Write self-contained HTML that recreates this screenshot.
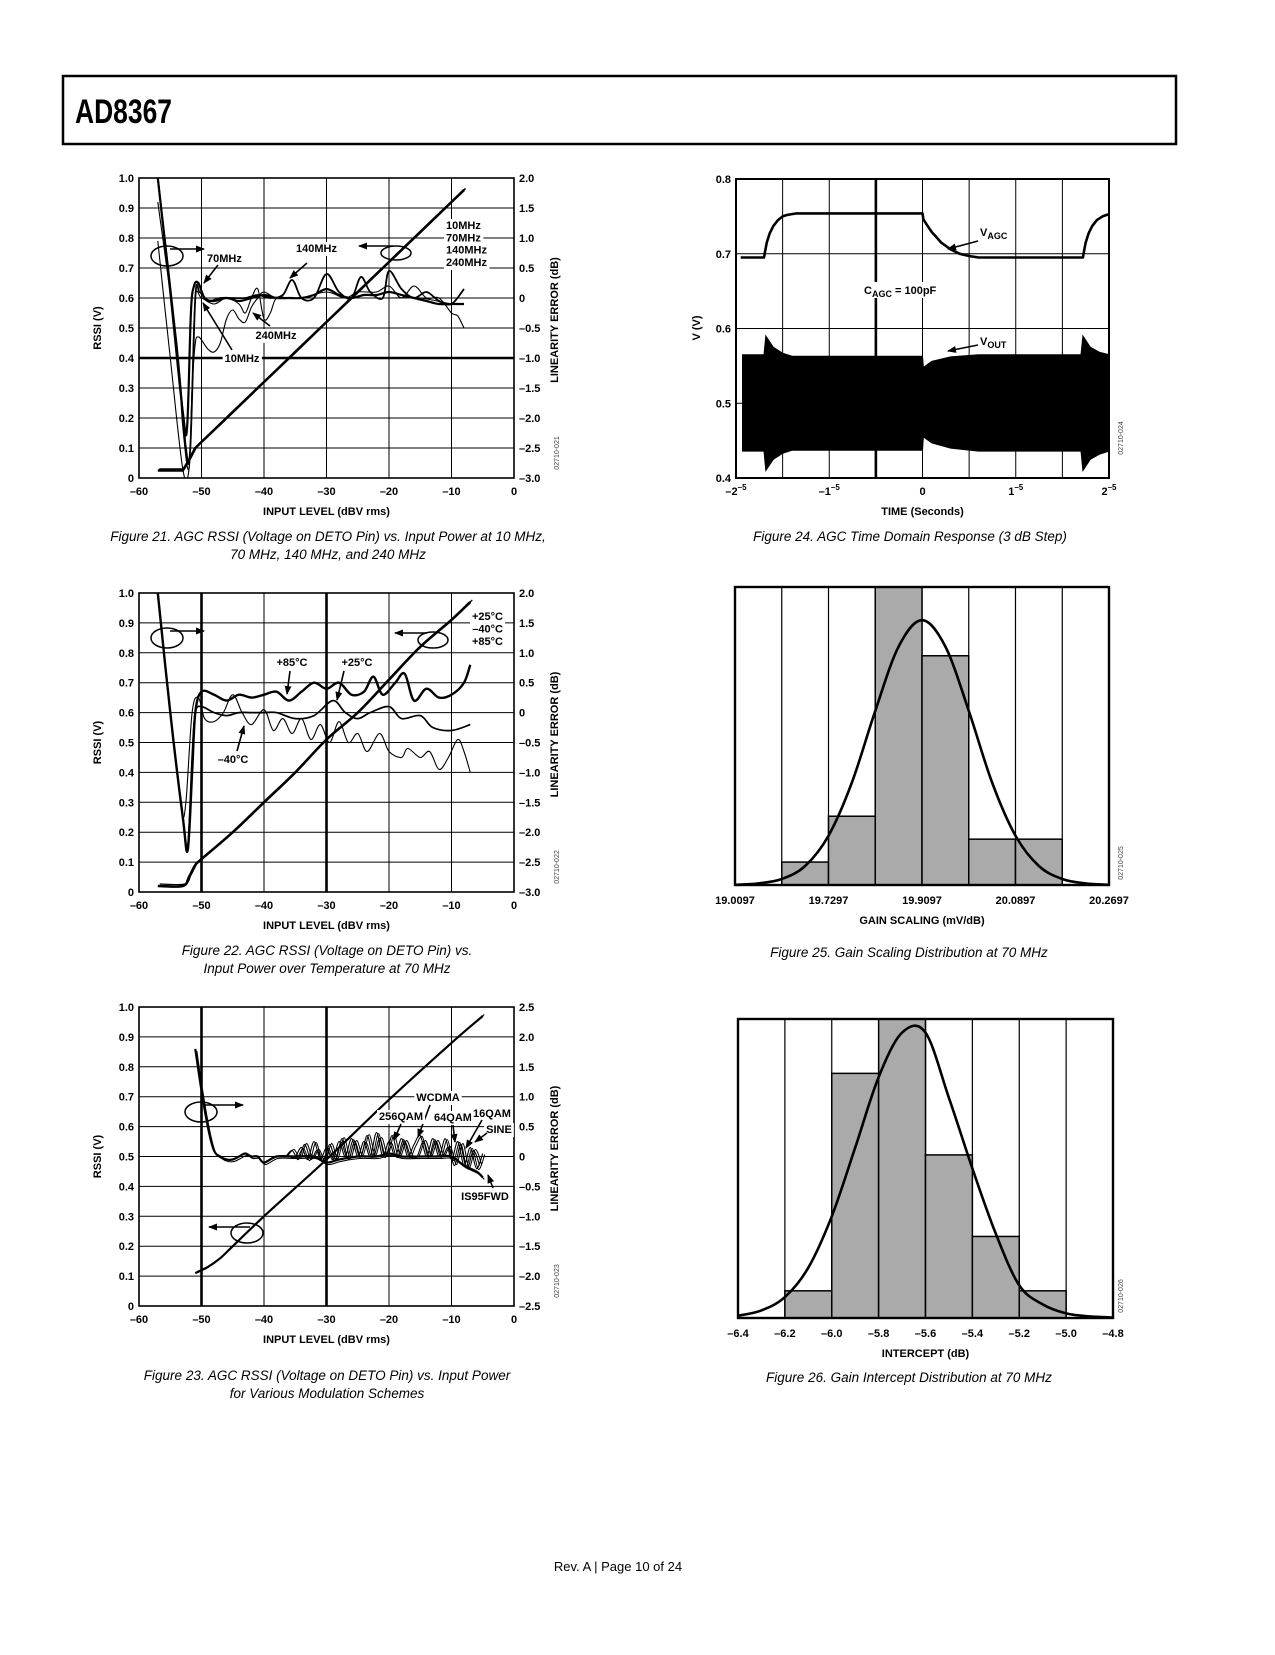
<!DOCTYPE html>
<html><head><meta charset="utf-8">
<style>
body{margin:0;background:#fff}
svg text{font-family:"Liberation Sans",Arial,sans-serif;fill:#000}
.t{font-size:11px;font-weight:bold}
.cap{font-size:13.5px;font-style:italic}
.code{font-size:7px;fill:#444}
</style></head>
<body>
<svg id="page" width="1275" height="1650" viewBox="0 0 1275 1650" xmlns="http://www.w3.org/2000/svg">
<defs>
<marker id="ah" markerWidth="9" markerHeight="7" refX="8" refY="3.5" orient="auto" markerUnits="userSpaceOnUse"><path d="M0,0L9,3.5L0,7z" fill="#000"/></marker>
</defs>
<rect x="63" y="76" width="1113" height="68" fill="none" stroke="#000" stroke-width="2.5"/>
<text x="75" y="123" font-size="34" font-weight="bold" textLength="97" lengthAdjust="spacingAndGlyphs">AD8367</text>
<text x="618" y="1571" font-size="13" text-anchor="middle">Rev. A | Page 10 of 24</text>
</svg>
<script>
// ---------- Figure 21 data ----------
const f21_rssi_x = [-57,-53,-52,-51,-50,-45,-40,-35,-30,-25,-20,-15,-10,-8];
const f21_rssi_v = [0.025,0.025,0.06,0.1,0.12,0.22,0.32,0.42,0.52,0.62,0.72,0.82,0.92,0.96];
const f21_70_x = [-57,-55,-53,-52.3,-51.7,-51.2,-50.5,-49.5,-48,-46,-44,-42,-40,-38,-36,-34,-32,-30,-28,-26,-24,-22,-20,-18,-16,-14,-12,-10,-8];
const f21_70_db = [2,0.1,-1.9,-2.15,-0.25,0.2,0.25,0,-0.05,0,-0.05,0,0.05,0,0,0,0.05,0.15,0.05,0,0.05,0.05,0.1,0.05,0,-0.05,-0.1,-0.1,-0.1];
const f21_140_x = [-57,-54,-52.5,-51.8,-51,-50.3,-49,-47,-45,-43,-41,-39,-37,-35.5,-34,-32,-30,-28,-26,-24.5,-23,-21,-20,-18,-16,-14,-12,-10,-8];
const f21_140_db = [2,-0.75,-2.5,-2.5,0,0.1,-0.05,0,0,0,0.05,0,0.05,0.3,0,0,0.4,0.1,0,0.35,0.1,0,0.45,0.15,0,0.1,-0.05,-0.1,0.15];
const f21_240_x = [-57,-54,-53,-52,-51.5,-51,-50,-48,-46,-44,-43,-42,-41,-40,-39,-38,-36,-34,-30,-27,-25,-22,-20,-18,-16,-14,-12,-10,-9,-8];
const f21_240_db = [1.6,-0.75,-2.15,-2.85,-1.5,0,0,-0.1,0,-0.1,-0.25,0,0.15,-0.35,-0.25,0,0,0,0.1,0,0.1,0.1,0.2,0,0.2,0,0,-0.25,-0.3,-0.5];
const f21_10_x = [-57,-55,-53,-52,-51.5,-51,-50.5,-50,-49,-48,-47,-46,-45,-44,-43,-42,-41,-40,-38,-35,-30,-25,-20,-15,-10,-8];
const f21_10_db = [0.95,-1,-2.85,-2.85,-1.5,-0.75,-0.65,-0.7,-0.85,-0.9,-0.75,-0.35,-0.2,-0.35,-0.4,-0.15,0,0.1,0,0,0,0,0,0,-0.1,-0.1];
// ---------- Figure 22 data ----------
const f22_rssi_x = [-57,-53,-52,-51,-50,-45,-40,-35,-30,-25,-20,-15,-10,-7];
const f22_rssi_v = [0.02,0.02,0.05,0.09,0.11,0.2,0.3,0.4,0.51,0.6,0.71,0.82,0.91,0.97];
const f22_p85_x = [-57,-55,-53,-52.2,-51.5,-51,-50,-48,-46,-44,-42,-40,-38,-36,-34,-32,-30,-28,-26,-24,-22.5,-21,-19,-17.5,-16,-14,-12,-10,-8,-7];
const f22_p85_db = [2,0,-1.75,-2.3,-1,0,0.35,0.3,0.2,0.3,0.25,0.3,0.35,0.2,0.35,0.5,0.4,0.5,0.3,0.35,0.6,0.3,0.5,0.65,0.2,0.4,0.25,0.3,0.5,0.8];
const f22_p25_x = [-57,-55,-53,-52.2,-51.5,-51,-50,-48,-46,-44,-42,-40,-38,-35,-32,-29,-27,-25,-23,-20,-18,-15,-13,-10,-7];
const f22_p25_db = [2,0,-1.75,-2.25,-0.75,0,0.1,0,-0.05,0,0,0,0,-0.1,-0.05,0.2,0,-0.1,0,0.1,-0.1,-0.05,-0.25,-0.3,-0.2];
const f22_m40_x = [-57,-55,-53.2,-52.5,-51.5,-50.5,-49.5,-48,-46.5,-45,-43.5,-42,-40,-38.5,-37,-35.5,-34,-32.5,-31,-29.5,-28,-26.5,-25,-23.5,-21.5,-20,-18,-17,-15,-13.5,-12,-10.5,-9,-8,-7];
const f22_m40_db = [2,0,-1.6,-1.5,0,0.25,-0.1,-0.15,0,0.3,0,-0.2,0.05,-0.3,-0.1,-0.35,-0.1,-0.45,-0.2,-0.5,-0.15,-0.5,-0.35,-0.65,-0.35,-0.65,-0.75,-0.6,-0.75,-0.65,-0.95,-0.75,-0.45,-0.65,-1.0];
// ---------- Figure 23 data ----------
const f23_rssi_x = [-51,-49,-47,-45,-40,-30,-20,-10,-5];
const f23_rssi_v = [0.11,0.13,0.16,0.2,0.3,0.49,0.69,0.88,0.97];
const f23_base_x = [-51,-50,-49,-48,-47,-46,-45,-44,-43,-42,-41,-40,-38,-35,-32,-30,-28,-25,-22,-20,-18,-15,-12,-10,-8,-6,-5];
const f23_base_db = [1.8,1.1,0.5,0.1,0,-0.05,-0.05,0,0.05,0,0,-0.1,0,0,0,-0.1,-0.05,0,0,0.05,0,0,0,0,-0.15,-0.25,-0.35];
const f23_osc1_x = [-36,-35,-34,-33,-32,-31,-30,-29,-28,-27,-26,-25,-24,-23,-22,-21,-20,-19,-18,-17,-16,-15,-14,-13,-12,-11,-10,-9,-8,-7,-6,-5];
const f23_osc1_db = [0,0,0.15,-0.05,0.25,-0.05,0.15,-0.05,0.25,0,0.3,0,0.25,0,0.4,0,0.25,0,0.3,0,0.2,0.35,0,0.3,0,0.3,-0.05,0.25,-0.15,0.15,-0.2,0.05];
const f23_osc2_x = [-36.5,-35.5,-34.5,-33.5,-32.5,-31.5,-30.5,-29.5,-28.5,-27.5,-26.5,-25.5,-24.5,-23.5,-22.5,-21.5,-20.5,-19.5,-18.5,-17.5,-16.5,-15.5,-14.5,-13.5,-12.5,-11.5,-10.5,-9.5,-8.5,-7.5,-6.5,-5.5];
const f23_osc2_db = [0,0.1,-0.05,0.2,-0.05,0.1,-0.1,0.2,-0.05,0.3,-0.05,0.25,0,0.35,0,0.3,0,0.35,0,0.25,0,0,0.25,0,0.25,0,0.15,-0.15,0.2,-0.2,0.1,-0.15];
// ---------- Figure 24 data ----------
const f24_vagc_t = [-1.95,-1.7,-1.69,-1.67,-1.64,-1.6,-1.55,-1.5,-1.45,-1.35,-1.2,0,0.01,0.05,0.1,0.15,0.2,0.3,0.4,0.5,0.6,1.72,1.73,1.75,1.78,1.82,1.87,1.93,2.0];
const f24_vagc_v = [0.695,0.695,0.702,0.715,0.727,0.737,0.745,0.75,0.752,0.754,0.754,0.754,0.746,0.738,0.729,0.722,0.715,0.706,0.7,0.697,0.695,0.695,0.702,0.715,0.727,0.737,0.745,0.75,0.753];
const f24_vout_t = [-1.93,-1.7,-1.68,-1.6,-1.5,-1.4,0,0.01,0.1,0.3,0.6,1.0,1.7,1.72,1.8,1.9,2.0];
const f24_vout_hi = [0.565,0.565,0.59,0.575,0.567,0.563,0.563,0.548,0.556,0.562,0.565,0.565,0.565,0.59,0.575,0.568,0.565];
const f24_vout_lo = [0.436,0.436,0.41,0.425,0.433,0.437,0.437,0.455,0.447,0.44,0.436,0.436,0.436,0.41,0.425,0.432,0.436];
// ---------- Figure 25 data ----------
const f25_counts = [0,1,3,13,10,2,2,0];
const f25_ticks = ["19.0097","19.7297","19.9097","20.0897","20.2697"];
const f25_fit_bin = [0,0.5,1,1.5,2,2.5,3,3.5,4,4.5,5,5.5,6,6.5,7,7.5,8];
const f25_fit_val = [0.01,0.07,0.26,0.83,2.15,4.47,7.6,10.4,11.55,10.4,7.6,4.47,2.15,0.83,0.26,0.07,0.01];
// ---------- Figure 26 data ----------
const f26_counts = [0,1,9,11,6,3,1,0];
const f26_ticks = ["–6.4","–6.2","–6.0","–5.8","–5.6","–5.4","–5.2","–5.0","–4.8"];
const f26_fit_x = [-6.4,-6.3,-6.2,-6.1,-6.0,-5.9,-5.8,-5.7,-5.6,-5.5,-5.4,-5.3,-5.2,-5.1,-5.0,-4.9,-4.8];
const f26_fit_val = [0.08,0.28,0.77,1.85,3.74,6.27,8.86,10.5,10.5,8.1,5.5,3.1,1.2,0.5,0.17,0.06,0.02];

const NS='http://www.w3.org/2000/svg';
const page=document.getElementById('page');
function mk(tag,attrs,parent,txt){const e=document.createElementNS(NS,tag);for(const k in attrs)e.setAttribute(k,attrs[k]);if(txt!=null)e.textContent=txt;(parent||page).appendChild(e);return e;}
function cr(p){let d='M'+p[0][0].toFixed(1)+','+p[0][1].toFixed(1);for(let i=0;i<p.length-1;i++){const p0=p[i-1]||p[i],p1=p[i],p2=p[i+1],p3=p[i+2]||p2;const c1x=p1[0]+(p2[0]-p0[0])/6,c1y=p1[1]+(p2[1]-p0[1])/6,c2x=p2[0]-(p3[0]-p1[0])/6,c2y=p2[1]-(p3[1]-p1[1])/6;d+='C'+c1x.toFixed(1)+','+c1y.toFixed(1)+' '+c2x.toFixed(1)+','+c2y.toFixed(1)+' '+p2[0].toFixed(1)+','+p2[1].toFixed(1);}return d;}
function pl(p){return 'M'+p.map(q=>q[0].toFixed(1)+','+q[1].toFixed(1)).join('L');}
function label(g,x,y,txt,anchor,bg){
  const t=mk('text',{x:x,y:y,class:'t','text-anchor':anchor||'start'},g,txt);
  
  
  if(bg){const b=t.getBBox();const r=mk('rect',{x:b.x-2,y:b.y-1,width:b.width+4,height:b.height+2,fill:'#fff'},g);g.insertBefore(r,t);}
  return t;
}
function arrow(g,x1,y1,x2,y2){
  const a=mk('line',{x1:x1,y1:y1,x2:x2,y2:y2,stroke:'#000','stroke-width':1.6,'marker-end':'url(#ah)'},g);
  
  
}
function ellipse(g,cx,cy,rx,ry){
  const e=mk('ellipse',{cx:cx,cy:cy,rx:rx,ry:ry,fill:'none',stroke:'#000','stroke-width':1.5},g);
  
  
}
function rotText(g,x,y,txt,cls,name){
  const t=mk('text',{x:0,y:0,class:cls,'text-anchor':'middle','dominant-baseline':'middle',transform:'translate('+x+','+y+') rotate(-90)'},g,txt);
  
  
}
function caption(x,y,lines,name){
  lines.forEach((s,i)=>{const t=mk('text',{x:x,y:y+i*18,class:'cap','text-anchor':'middle'},page,s);
  
  });
}

function rssiChart(o){
  const g=mk('g',{});
  
  
  const sx=x=>o.L+(x+60)/60*(o.R-o.L);
  const sy=v=>o.B-v*(o.B-o.T);
  const sd=d=>o.B-(d-o.dMin)/(o.dMax-o.dMin)*(o.B-o.T);
  for(let x=-50;x<0;x+=10){const th=o.thickX.includes(x);const l=mk('line',{x1:sx(x),y1:o.T,x2:sx(x),y2:o.B,stroke:'#000','stroke-width':th?2.6:1},g);
    
    }
  for(let i=1;i<10;i++){const th=o.thickY.includes(i);const l=mk('line',{x1:o.L,y1:sy(i/10),x2:o.R,y2:sy(i/10),stroke:'#000','stroke-width':th?2.4:1},g);
    
    }
  const fr=mk('rect',{x:o.L,y:o.T,width:o.R-o.L,height:o.B-o.T,fill:'none',stroke:'#000','stroke-width':1.6},g);
  
  
  for(let i=0;i<=10;i++){const t=mk('text',{x:o.L-5,y:sy(i/10)+4,class:'t','text-anchor':'end'},g,i==0?'0':(i==10?'1.0':'0.'+i));
    
    }
  o.rTicks.forEach(d=>{const t=mk('text',{x:o.R+5,y:sd(d)+4,class:'t'},g,(d<0?'–':'')+(d==0?'0':Math.abs(d).toFixed(1)));
    
    });
  for(let x=-60;x<=0;x+=10){const t=mk('text',{x:sx(x),y:o.B+17,class:'t','text-anchor':'middle'},g,x==0?'0':'–'+(-x));
    
    }
  const xt=mk('text',{x:(o.L+o.R)/2,y:o.B+37,class:'t','text-anchor':'middle'},g,'INPUT LEVEL (dBV rms)');
  
  
  rotText(g,98,(o.T+o.B)/2,'RSSI (V)','t','left-axis-title');
  rotText(g,o.R+41,(o.T+o.B)/2-8,'LINEARITY ERROR (dB)','t','right-axis-title');
  rotText(g,o.R+43,o.B-25,o.code,'code','figure-code');
  const cp=mk('clipPath',{id:'cp'+o.name},g);
  mk('rect',{x:o.L,y:o.T,width:o.R-o.L,height:o.B-o.T},cp);
  const pg=mk('g',{'clip-path':'url(#cp'+o.name+')'},g);
  return {g,pg,sx,sy,sd};
}
function drawSeries(c,xs,vs,scale,w,name,smooth,dx,dy){
  const pts=xs.map((x,i)=>[c.sx(x)+(dx||0),scale(vs[i])+(dy||0)]);
  const p=mk('path',{d:smooth?cr(pts):pl(pts),fill:'none',stroke:'#000','stroke-width':w,'stroke-linejoin':'round'},c.pg);
  
  
}

// Figure 21
{
const c=rssiChart({name:'figure-21-chart',L:139,R:514,T:178,B:478,dMin:-3,dMax:2,rTicks:[2,1.5,1,0.5,0,-0.5,-1,-1.5,-2,-2.5,-3],thickX:[],thickY:[4],code:'02710-021'});
drawSeries(c,f21_rssi_x,f21_rssi_v,c.sy,2.6,'rssi-line',false);
drawSeries(c,f21_rssi_x,f21_rssi_v,c.sy,1.6,'rssi-line-2',false,1.5,-1.5);
drawSeries(c,f21_10_x,f21_10_db,c.sd,1.1,'error-10mhz',true);
drawSeries(c,f21_240_x,f21_240_db,c.sd,1.1,'error-240mhz',true);
drawSeries(c,f21_70_x,f21_70_db,c.sd,2.2,'error-70mhz',true);
drawSeries(c,f21_140_x,f21_140_db,c.sd,1.8,'error-140mhz',true);
const g=c.g;
ellipse(g,167,256,16,10); arrow(g,170,249,204,249);
ellipse(g,396,253,15,7); arrow(g,393,246,359,246);
label(g,207,262,'70MHz','start',true); arrow(g,218,265,204,283);
label(g,296,252,'140MHz','start',true); arrow(g,307,263,290,278);
['10MHz','70MHz','140MHz','240MHz'].forEach((s,i)=>label(g,446,229+i*12.3,s,'start',true));
label(g,276,339,'240MHz','middle',true); arrow(g,270,326,253,313);
label(g,242,362,'10MHz','middle',true); arrow(g,232,350,203,303);
caption(328,541,['Figure 21. AGC RSSI (Voltage on DETO Pin) vs. Input Power at 10 MHz,','70 MHz, 140 MHz, and 240 MHz'],'figure-21-caption');
}
// Figure 22
{
const c=rssiChart({name:'figure-22-chart',L:139,R:514,T:593,B:892,dMin:-3,dMax:2,rTicks:[2,1.5,1,0.5,0,-0.5,-1,-1.5,-2,-2.5,-3],thickX:[-50,-30],thickY:[],code:'02710-022'});
drawSeries(c,f22_rssi_x,f22_rssi_v,c.sy,2.6,'rssi-line',true);
drawSeries(c,f22_rssi_x,f22_rssi_v,c.sy,1.2,'rssi-line-2',true,2,-2);
drawSeries(c,f22_m40_x,f22_m40_db,c.sd,1.1,'error-minus40c',true);
drawSeries(c,f22_p25_x,f22_p25_db,c.sd,1.7,'error-plus25c',true);
drawSeries(c,f22_p85_x,f22_p85_db,c.sd,2.4,'error-plus85c',true);
const g=c.g;
ellipse(g,167,638,16,10); arrow(g,170,631,204,631);
ellipse(g,433,640,15,8); arrow(g,427,633,395,633);
['+25°C','–40°C','+85°C'].forEach((s,i)=>label(g,503,620+i*12.5,s,'end',true));
label(g,292,666,'+85°C','middle',true); arrow(g,290,671,287,694);
label(g,357,666,'+25°C','middle',true); arrow(g,344,671,337,700);
label(g,233,763,'–40°C','middle',true); arrow(g,237,751,244,726);
caption(327,955,['Figure 22. AGC RSSI (Voltage on DETO Pin) vs.','Input Power over Temperature at 70 MHz'],'figure-22-caption');
}
// Figure 23
{
const c=rssiChart({name:'figure-23-chart',L:139,R:514,T:1007,B:1306,dMin:-2.5,dMax:2.5,rTicks:[2.5,2,1.5,1,0.5,0,-0.5,-1,-1.5,-2,-2.5],thickX:[-50,-30],thickY:[],code:'02710-023'});
drawSeries(c,f23_rssi_x,f23_rssi_v,c.sy,2.2,'rssi-line',true);
drawSeries(c,f23_rssi_x,f23_rssi_v,c.sy,1.1,'rssi-line-2',true,1.5,-1.5);
drawSeries(c,f23_base_x,f23_base_db,c.sd,2.2,'error-is95fwd',true);
drawSeries(c,f23_base_x,f23_base_db,c.sd,1.1,'error-sine',true,1.5,2);
drawSeries(c,f23_osc1_x,f23_osc1_db,c.sd,1.1,'error-wcdma',true);
drawSeries(c,f23_osc2_x,f23_osc2_db,c.sd,1.1,'error-256qam',true);
drawSeries(c,f23_osc1_x,f23_osc1_db,c.sd,1.0,'error-64qam',true,2,1);
drawSeries(c,f23_osc2_x,f23_osc2_db,c.sd,1.0,'error-16qam',true,2,-1);
const g=c.g;
ellipse(g,201,1112,16,10); arrow(g,203,1105,243,1105);
ellipse(g,247,1233,16,10); arrow(g,250,1227,209,1227);
label(g,438,1101,'WCDMA','middle',true); arrow(g,430,1105,418,1137);
label(g,401,1120,'256QAM','middle',true); arrow(g,401,1124,394,1140);
label(g,453,1121,'64QAM','middle',true); arrow(g,453,1125,455,1142);
label(g,492,1117,'16QAM','middle',true); arrow(g,482,1120,466,1148);
label(g,499,1133,'SINE','middle',true); arrow(g,487,1133,475,1142);
label(g,485,1200,'IS95FWD','middle',true); arrow(g,493,1188,488,1175);
caption(327,1380,['Figure 23. AGC RSSI (Voltage on DETO Pin) vs. Input Power','for Various Modulation Schemes'],'figure-23-caption');
}
// Figure 24
{
const L=736,R=1109,T=179,B=478;
const g=mk('g',{});


const sx=t=>L+(t+2)/4*(R-L);
const sy=v=>B-(v-0.4)/0.4*(B-T);
for(let k=-3;k<=3;k++){const t=k*0.5;const l=mk('line',{x1:sx(t),y1:T,x2:sx(t),y2:B,stroke:'#000','stroke-width':t==-0.5?2.6:1},g);
  
  }
[0.5,0.6,0.7].forEach(v=>{const l=mk('line',{x1:L,y1:sy(v),x2:R,y2:sy(v),stroke:'#000','stroke-width':1},g);
  
  });
const env=f24_vout_t.map((t,i)=>[sx(t),sy(f24_vout_hi[i])]).concat(f24_vout_t.map((t,i)=>[sx(t),sy(f24_vout_lo[i])]).reverse());
const vo=mk('path',{d:pl(env)+'Z',fill:'#000',stroke:'#000','stroke-width':1},g);


const vp=f24_vagc_t.map((t,i)=>[sx(t),sy(f24_vagc_v[i])]);
const va=mk('path',{d:pl(vp),fill:'none',stroke:'#000','stroke-width':2.6,'stroke-linejoin':'round'},g);


const fr=mk('rect',{x:L,y:T,width:R-L,height:B-T,fill:'none',stroke:'#000','stroke-width':2},g);


['0.4','0.5','0.6','0.7','0.8'].forEach((s,i)=>{const t=mk('text',{x:L-5,y:sy(0.4+i*0.1)+4,class:'t','text-anchor':'end'},g,s);
  
  });
[['–2',-2],['–1',-1],['0',0],['1',1],['2',2]].forEach(([s,v])=>{const t=mk('text',{x:sx(v),y:B+17,class:'t','text-anchor':'middle'},g);
  
  
  t.appendChild(document.createTextNode(s));
  if(v!=0){mk('tspan',{dy:-5,'font-size':8},t,'–5');}});
const xt=mk('text',{x:(L+R)/2,y:515,class:'t','text-anchor':'middle'},g,'TIME (Seconds)');


rotText(g,697,328,'V (V)','t','y-axis-title');
rotText(g,1121,438,'02710-024','code','figure-code');
const t1=mk('text',{x:980,y:236,class:'t'},g,'V');


mk('tspan',{dy:3,'font-size':9},t1,'AGC');
arrow(g,978,241,948,249);
mk('rect',{x:862,y:282,width:84,height:16,fill:'#fff'},g);
const t2=mk('text',{x:864,y:294,class:'t'},g,'C');


mk('tspan',{dy:3,'font-size':9},t2,'AGC');
mk('tspan',{dy:-3},t2,' = 100pF');
const t3=mk('text',{x:980,y:345,class:'t'},g,'V');


mk('tspan',{dy:3,'font-size':9},t3,'OUT');
arrow(g,978,345,948,351);
caption(910,541,['Figure 24. AGC Time Domain Response (3 dB Step)'],'figure-24-caption');
}
function hist(o){
  const g=mk('g',{});
  
  
  const n=o.counts.length,cw=(o.R-o.L)/n;
  const sy=v=>o.B-v/o.ymax*(o.B-o.T);
  for(let i=1;i<n;i++){const l=mk('line',{x1:o.L+i*cw,y1:o.T,x2:o.L+i*cw,y2:o.B,stroke:'#000','stroke-width':1.2},g);
    
    }
  o.counts.forEach((c,i)=>{if(!c)return;const r=mk('rect',{x:o.L+i*cw,y:sy(c),width:cw,height:o.B-sy(c),fill:'#aaaaaa',stroke:'#000','stroke-width':1.5},g);
    
    });
  const pts=o.fx.map((x,i)=>[o.fxs(x,cw),sy(o.fv[i])]);
  const p=mk('path',{d:cr(pts),fill:'none',stroke:'#000','stroke-width':2.6},g);
  
  
  const fr=mk('rect',{x:o.L,y:o.T,width:o.R-o.L,height:o.B-o.T,fill:'none',stroke:'#000','stroke-width':2.4},g);
  
  
  const step=(o.R-o.L)/(o.ticks.length-1);
  o.ticks.forEach((s,i)=>{const t=mk('text',{x:o.L+i*step,y:o.B+19,class:'t','text-anchor':'middle'},g,s);
    
    });
  const xt=mk('text',{x:(o.L+o.R)/2,y:o.B+39,class:'t','text-anchor':'middle'},g,o.title);
  
  
  rotText(g,1121,o.B-22,o.code,'code','figure-code');
}
hist({name:'figure-25-histogram',L:735,R:1109,T:587,B:885,counts:f25_counts,ymax:13,fx:f25_fit_bin,fv:f25_fit_val,fxs:(x,cw)=>735+x*cw,ticks:f25_ticks,title:'GAIN SCALING (mV/dB)',code:'02710-025'});
caption(909,957,['Figure 25. Gain Scaling Distribution at 70 MHz'],'figure-25-caption');
hist({name:'figure-26-histogram',L:738,R:1113,T:1019,B:1318,counts:f26_counts,ymax:11,fx:f26_fit_x,fv:f26_fit_val,fxs:(x,cw)=>738+(x+6.4)/0.2*cw,ticks:f26_ticks,title:'INTERCEPT (dB)',code:'02710-026'});
caption(909,1382,['Figure 26. Gain Intercept Distribution at 70 MHz'],'figure-26-caption');
</script>
</body></html>
